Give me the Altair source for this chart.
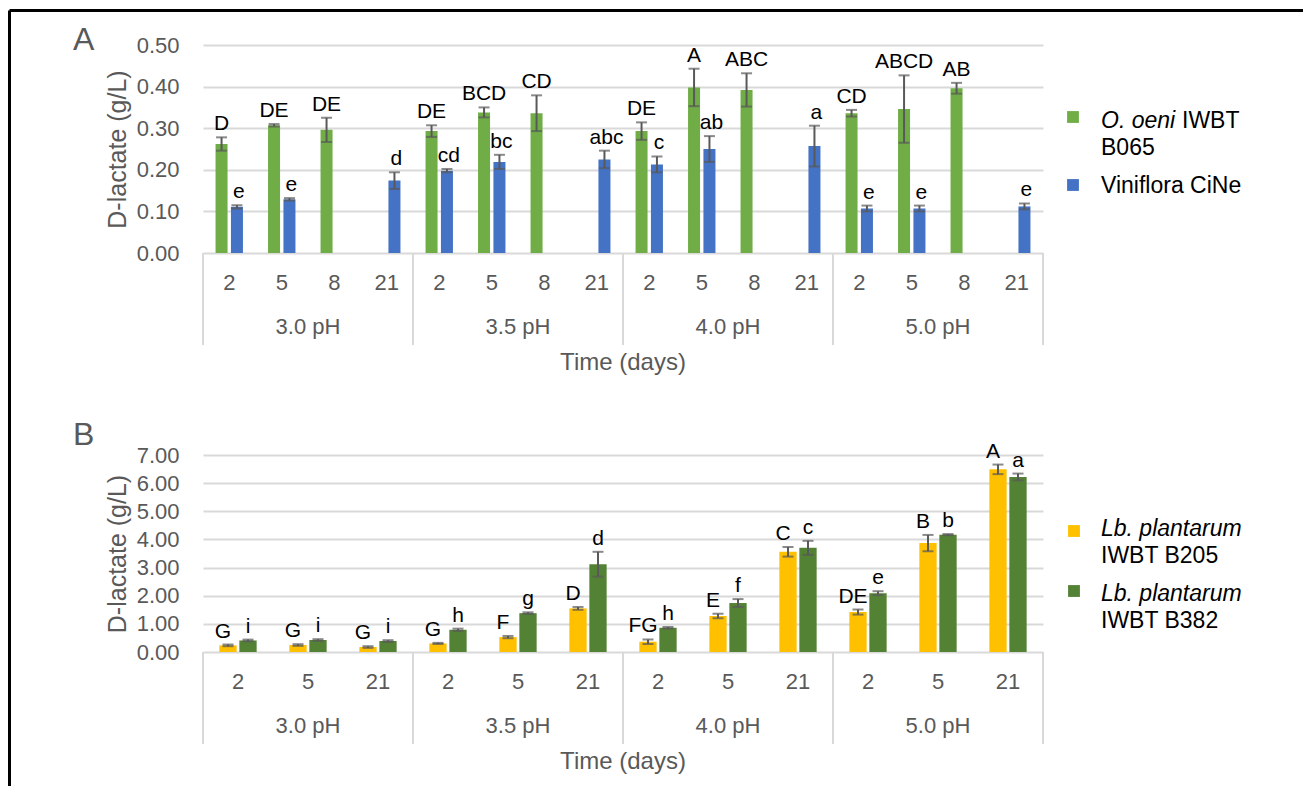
import altair as alt
import pandas as pd

FONT = "Liberation Sans"
GRAY = "#595959"
GRID = "#D9D9D9"

ph_groups = ["3.0 pH", "3.5 pH", "4.0 pH", "5.0 pH"]
days_a = ["2", "5", "8", "21"]
days_b = ["2", "5", "21"]

# ---- Panel A ----
series_a = ["O. oeni IWBT B065", "Viniflora CiNe"]
colors_a = ["#70AD47", "#4472C4"]
oeni_mean = [0.262, 0.307, 0.296, None, 0.293, 0.338, 0.336, None,
             0.293, 0.398, 0.392, None, 0.336, 0.346, 0.396, None]
oeni_err = [0.016, 0.003, 0.029, None, 0.014, 0.012, 0.043, None,
            0.021, 0.045, 0.040, None, 0.008, 0.081, 0.013, None]
oeni_let = ["D", "DE", "DE", None, "DE", "BCD", "CD", None,
            "DE", "A", "ABC", None, "CD", "ABCD", "AB", None]
cine_mean = [0.111, 0.129, None, 0.174, 0.198, 0.219, None, 0.225,
             0.213, 0.250, None, 0.257, 0.107, 0.107, None, 0.112]
cine_err = [0.004, 0.003, None, 0.020, 0.004, 0.017, None, 0.021,
            0.019, 0.031, None, 0.049, 0.007, 0.007, None, 0.007]
cine_let = ["e", "e", None, "d", "cd", "bc", None, "abc",
            "c", "ab", None, "a", "e", "e", None, "e"]
yticks_a = [0.0, 0.1, 0.2, 0.3, 0.4, 0.5]

# ---- Panel B ----
series_b = ["Lb. plantarum IWBT B205", "Lb. plantarum IWBT B382"]
colors_b = ["#FFC000", "#548235"]
b205_mean = [0.236, 0.248, 0.177, 0.305, 0.53, 1.55, 0.365, 1.28, 3.56, 1.42, 3.87, 6.49]
b205_err = [0.03, 0.03, 0.03, 0.02, 0.04, 0.05, 0.08, 0.08, 0.17, 0.09, 0.29, 0.17]
b205_let = ["G", "G", "G", "G", "F", "D", "FG", "E", "C", "DE", "B", "A"]
b382_mean = [0.41, 0.425, 0.39, 0.79, 1.38, 3.12, 0.86, 1.74, 3.70, 2.09, 4.17, 6.22]
b382_err = [0.03, 0.03, 0.03, 0.04, 0.03, 0.44, 0.03, 0.14, 0.25, 0.07, 0.02, 0.12]
b382_let = ["i", "i", "i", "h", "g", "d", "h", "f", "c", "e", "b", "a"]
yticks_b = [0, 1, 2, 3, 4, 5, 6, 7]

W = 840


def build(days, names, means, errs, lets):
    rows = []
    for s, ml, el, ll in zip(names, means, errs, lets):
        i = 0
        for ph in ph_groups:
            for d in days:
                m, e, l = ml[i], el[i], ll[i]
                i += 1
                if m is None:
                    continue
                rows.append(dict(slot=f"{ph}|{d}", series=s, mean=m,
                                 lo=m - e, hi=m + e, letter=l))
    return pd.DataFrame(rows)


def one(text):
    return pd.DataFrame({"t": [text]})


def panel(df, days, names, colors, yticks, H, off_in, off_out, cap, label_dx,
          mid_day, mid_band, letter, letter_y, legend_lines, legend_sq, frame=False):
    slots = [f"{ph}|{d}" for ph in ph_groups for d in days]
    xs = alt.Scale(domain=slots, paddingInner=0, paddingOuter=0)
    xaxis = alt.Axis(title=None, labelExpr="split(datum.value, '|')[1]", labelAngle=0,
                     labelFontSize=22, labelColor=GRAY, labelFont=FONT, labelPadding=19,
                     ticks=False, tickSize=0, domain=False, grid=False)
    ys = alt.Scale(domain=[yticks[0], yticks[-1]], nice=False)
    yaxis = alt.Axis(title="D-lactate (g/L)", values=yticks, format=".2f",
                     labelFontSize=22, labelColor=GRAY, labelFont=FONT, labelPadding=24,
                     ticks=False, tickSize=0, domain=False, grid=True, gridColor=GRID,
                     gridWidth=2, titleFont=FONT, titleFontSize=25, titleColor=GRAY,
                     titleFontWeight="normal", titlePadding=6)
    X = alt.X("slot:N", scale=xs, axis=xaxis)
    XO = alt.XOffset("series:N", scale=alt.Scale(domain=names, paddingInner=off_in,
                                                 paddingOuter=off_out))

    def Y(f):
        return alt.Y(f, scale=ys, axis=yaxis)

    base = alt.Chart(df)
    bars = base.mark_bar().encode(
        x=X, xOffset=XO, y=Y("mean:Q"),
        color=alt.Color("series:N", scale=alt.Scale(domain=names, range=colors), legend=None))
    err = base.mark_rule(color=GRAY, strokeWidth=2).encode(x=X, xOffset=XO, y=Y("lo:Q"), y2="hi:Q")
    cap_lo = base.mark_tick(color=GRAY, size=cap, thickness=2).encode(x=X, xOffset=XO, y=Y("lo:Q"))
    cap_hi = base.mark_tick(color=GRAY, size=cap, thickness=2).encode(x=X, xOffset=XO, y=Y("hi:Q"))
    label_layers = []
    for s, dx in zip(names, label_dx):
        label_layers.append(
            base.transform_filter(alt.datum.series == s).mark_text(
                baseline="alphabetic", dy=-7, dx=dx, fontSize=21, color="black", font=FONT
            ).encode(x=X, xOffset=XO, y=Y("hi:Q"), text="letter:N"))

    sep_df = pd.DataFrame({"slot": [f"{ph}|{days[0]}" for ph in ph_groups]})
    sep = alt.Chart(sep_df).mark_rule(color=GRID, strokeWidth=2).encode(
        x=alt.X("slot:N", scale=xs, axis=xaxis, bandPosition=0),
        y=alt.value(H), y2=alt.value(H + 92))
    sep_end = alt.Chart(pd.DataFrame({"slot": [slots[-1]]})).mark_rule(
        color=GRID, strokeWidth=2).encode(
        x=alt.X("slot:N", scale=xs, axis=xaxis, bandPosition=1),
        y=alt.value(H), y2=alt.value(H + 92))
    ph_df = pd.DataFrame({"slot": [f"{ph}|{mid_day}" for ph in ph_groups], "ph": ph_groups})
    ph_txt = alt.Chart(ph_df).mark_text(fontSize=22, color=GRAY, font=FONT, baseline="middle").encode(
        x=alt.X("slot:N", scale=xs, axis=xaxis, bandPosition=mid_band),
        y=alt.value(H + 74), text="ph:N")
    time_txt = alt.Chart(one("Time (days)")).mark_text(
        fontSize=24, color=GRAY, font=FONT, baseline="middle").encode(
        x=alt.value(W / 2), y=alt.value(H + 110), text="t:N")
    let_txt = alt.Chart(one(letter)).mark_text(
        fontSize=32, color=GRAY, font=FONT, align="left", baseline="alphabetic").encode(
        x=alt.value(-130), y=alt.value(letter_y), text="t:N")

    layers = [sep, sep_end, bars, err, cap_lo, cap_hi] + label_layers + [ph_txt, time_txt, let_txt]

    # legend
    for (sx, sy, col) in legend_sq:
        layers.append(alt.Chart(one("")).mark_square(size=140, color=col, opacity=1, filled=True).encode(
            x=alt.value(sx), y=alt.value(sy)))
    for (tx, ty, txt, style) in legend_lines:
        layers.append(alt.Chart(one(txt)).mark_text(
            fontSize=23, color="black", font=FONT, align="left", baseline="alphabetic",
            fontStyle=style).encode(x=alt.value(tx), y=alt.value(ty), text="t:N"))

    if frame:
        layers.append(alt.Chart(one("")).mark_rule(color="black", strokeWidth=3).encode(
            x=alt.value(-193.5), x2=alt.value(1100), y=alt.value(-34.5)))
        layers.append(alt.Chart(one("")).mark_rule(color="black", strokeWidth=3).encode(
            x=alt.value(-193.5), y=alt.value(-34.5), y2=alt.value(741)))

    return alt.layer(*layers).properties(width=W, height=H)


df_a = build(days_a, series_a, [oeni_mean, cine_mean], [oeni_err, cine_err], [oeni_let, cine_let])
df_b = build(days_b, series_b, [b205_mean, b382_mean], [b205_err, b382_err], [b205_let, b382_let])

LX = 898
legend_a = [(LX, 83, "O. oeni", "italic"), (LX + 81, 83, "IWBT", "normal"),
            (LX, 110, "B065", "normal"), (LX, 148, "Viniflora CiNe", "normal")]
legend_a_sq = [(870, 72, colors_a[0]), (870, 140, colors_a[1])]
legend_b = [(LX, 81, "Lb. plantarum", "italic"), (LX, 108, "IWBT B205", "normal"),
            (LX, 146, "Lb. plantarum", "italic"), (LX, 173, "IWBT B382", "normal")]
legend_b_sq = [(871, 76, colors_b[0]), (871, 136, colors_b[1])]

chart_a = panel(df_a, days_a, series_a, colors_a, yticks_a, 208, 0.22, 0.815, 11, [0, 2],
                "5", 1, "A", 5, legend_a, legend_a_sq, frame=True)
chart_b = panel(df_b, days_b, series_b, colors_b, yticks_b, 197, 0.135, 0.8175, 11, [-5, 0],
                "5", 0.5, "B", -10, legend_b, legend_b_sq)

chart = alt.vconcat(chart_a, chart_b, spacing=202, bounds="flush").resolve_scale(
    color="independent", xOffset="independent", x="independent", y="independent"
).properties(
    padding={"left": 0, "top": 1, "right": 0, "bottom": 0}
).configure_view(stroke=None)

chart.save("out.html", embed_options={"renderer": "svg", "actions": False})
